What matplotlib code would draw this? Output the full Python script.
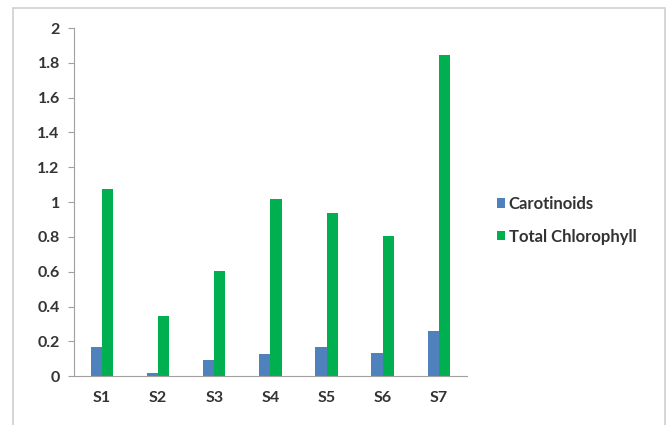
import numpy as np
import matplotlib.pyplot as plt
from matplotlib.patches import Rectangle

samples = ["S1", "S2", "S3", "S4", "S5", "S6", "S7"]
carotinoids = [0.165, 0.02, 0.09, 0.13, 0.17, 0.135, 0.26]
chlorophyll = [1.075, 0.345, 0.605, 1.02, 0.935, 0.805, 1.845]
yticks = [0, 0.2, 0.4, 0.6, 0.8, 1, 1.2, 1.4, 1.6, 1.8, 2]
ytick_labels = ["0", "0.2", "0.4", "0.6", "0.8", "1", "1.2", "1.4", "1.6", "1.8", "2"]

plt.rcParams['font.family'] = ['Lato', 'DejaVu Sans']

fig = plt.figure(figsize=(6.7, 4.25), dpi=100)
ax = fig.add_axes([0.110, 0.115, 0.587, 0.819])

# outer chart border
fig.patches.append(Rectangle((13 / 670, -0.05), 652 / 670, 1 - 8 / 425 + 0.05,
                             transform=fig.transFigure, fill=False,
                             edgecolor="#d0d0d0", lw=1.2))

x = np.arange(len(samples))
w = 0.2
ax.bar(x - w / 2, carotinoids, w, color="#4F81BD", label="Carotinoids")
ax.bar(x + w / 2, chlorophyll, w, color="#00B050", label="Total Chlorophyll")

ax.set_xlim(-0.5, len(samples) - 0.5)
ax.set_ylim(0, 2)
ax.set_yticks(yticks)
ax.set_yticklabels(ytick_labels)
ax.set_xticks(x)
ax.set_xticklabels(samples)

for s in ["top", "right"]:
    ax.spines[s].set_visible(False)
for s in ["left", "bottom"]:
    ax.spines[s].set_color("#a0a0a0")

ax.tick_params(axis="y", length=4, color="#a0a0a0", labelsize=11.5, pad=6)
ax.tick_params(axis="x", length=0, labelsize=11.5, pad=11)
for lbl in ax.get_xticklabels() + ax.get_yticklabels():
    lbl.set_fontweight("bold")
    lbl.set_color("#333333")

leg = ax.legend(loc="center left", bbox_to_anchor=(1.076, 0.448), frameon=False,
                borderaxespad=0, borderpad=0,
                handlelength=0.5, handleheight=0.5, handletextpad=0.2,
                labelspacing=1.0, prop={"size": 12, "weight": "bold"})
for t in leg.get_texts():
    t.set_color("#333333")

fig.savefig("out.png", dpi=100)
